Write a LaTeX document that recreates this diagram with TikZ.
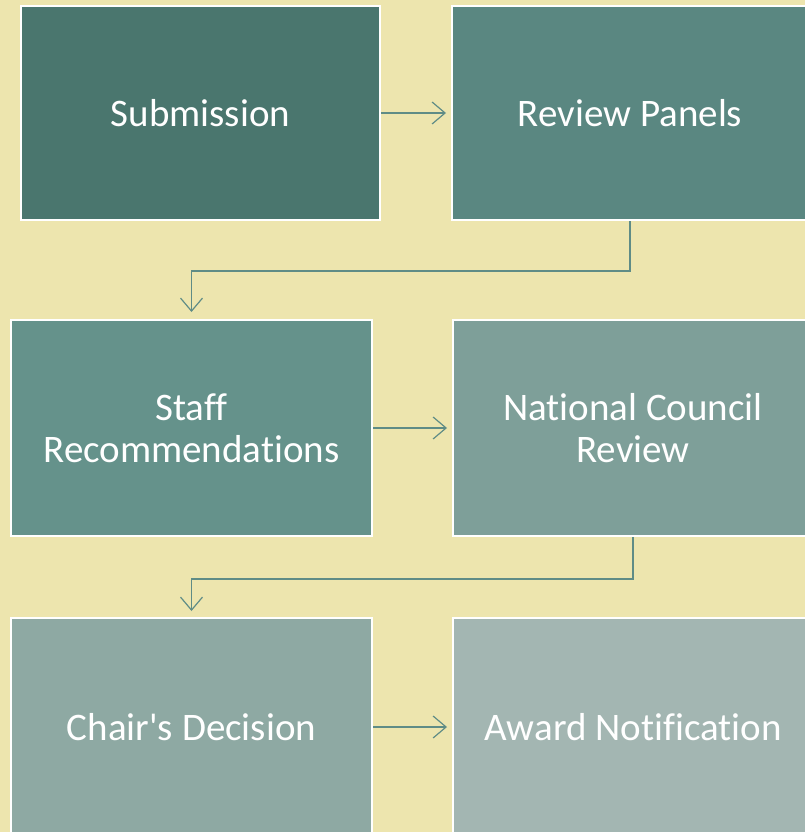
\documentclass[tikz,border=0pt]{standalone}
\usepackage{fontspec}
\setmainfont[Ligatures={NoCommon,TeXOff}]{Carlito}
\usetikzlibrary{arrows.meta}
\pgfdeclarelayer{bglayer}
\pgfdeclarelayer{nodelayer}
\pgfdeclarelayer{edgelayer}
\pgfsetlayers{bglayer,edgelayer,nodelayer,main}
\definecolor{bgyellow}{HTML}{EDE5AE}
\definecolor{lineteal}{HTML}{5F8C86}
\definecolor{stepA}{HTML}{4A766E}
\definecolor{stepB}{HTML}{5A8781}
\definecolor{stepC}{HTML}{65928B}
\definecolor{stepD}{HTML}{7E9F99}
\definecolor{stepE}{HTML}{8EA9A3}
\definecolor{stepF}{HTML}{A3B6B2}
\tikzstyle{box}=[draw=white, line width=2pt, shape=rectangle, text=white, align=center, font=\fontsize{39}{42}\selectfont, inner sep=0pt]
\tikzstyle{directed edge}=[-{Straight Barb[length=13pt,width=22pt]}, draw=lineteal, line width=1.2pt]

\begin{document}
\begin{tikzpicture}[x=1pt,y=-1pt]
	\useasboundingbox (0,0) rectangle (805,832);
	\clip (0,0) rectangle (805,832);
	\begin{pgfonlayer}{bglayer}
		\fill [bgyellow] (0,0) rectangle (805,832);
	\end{pgfonlayer}
	\begin{pgfonlayer}{nodelayer}
		\node [style=box, fill=stepA, minimum width=359pt, minimum height=214pt] (0) at (200.5, 113) {Submission};
		\node [style=box, fill=stepB, minimum width=356pt, minimum height=214pt] (1) at (630, 113) {Review Panels};
		\node [style=box, fill=stepC, minimum width=361pt, minimum height=216pt] (2) at (191.5, 428) {Staff\\Recommendations};
		\node [style=box, fill=stepD, minimum width=360pt, minimum height=216pt] (3) at (633, 428) {National Council\\Review};
		\node [style=box, fill=stepE, minimum width=361pt, minimum height=218pt] (4) at (191.5, 727) {Chair's Decision};
		\node [style=box, fill=stepF, minimum width=360pt, minimum height=218pt] (5) at (633, 727) {Award Notification};
	\end{pgfonlayer}
	\begin{pgfonlayer}{edgelayer}
		\draw [style=directed edge, shorten >=5pt] (0) to (1);
		\draw [style=directed edge, shorten >=7pt] (1.south) -- ++(0,50) -| (2.north);
		\draw [style=directed edge, shorten >=5pt] (2) to (3);
		\draw [style=directed edge, shorten >=6pt] (3.south) -- ++(0,42) -| (4.north);
		\draw [style=directed edge, shorten >=5pt] (4) to (5);
	\end{pgfonlayer}
\end{tikzpicture}
\end{document}
